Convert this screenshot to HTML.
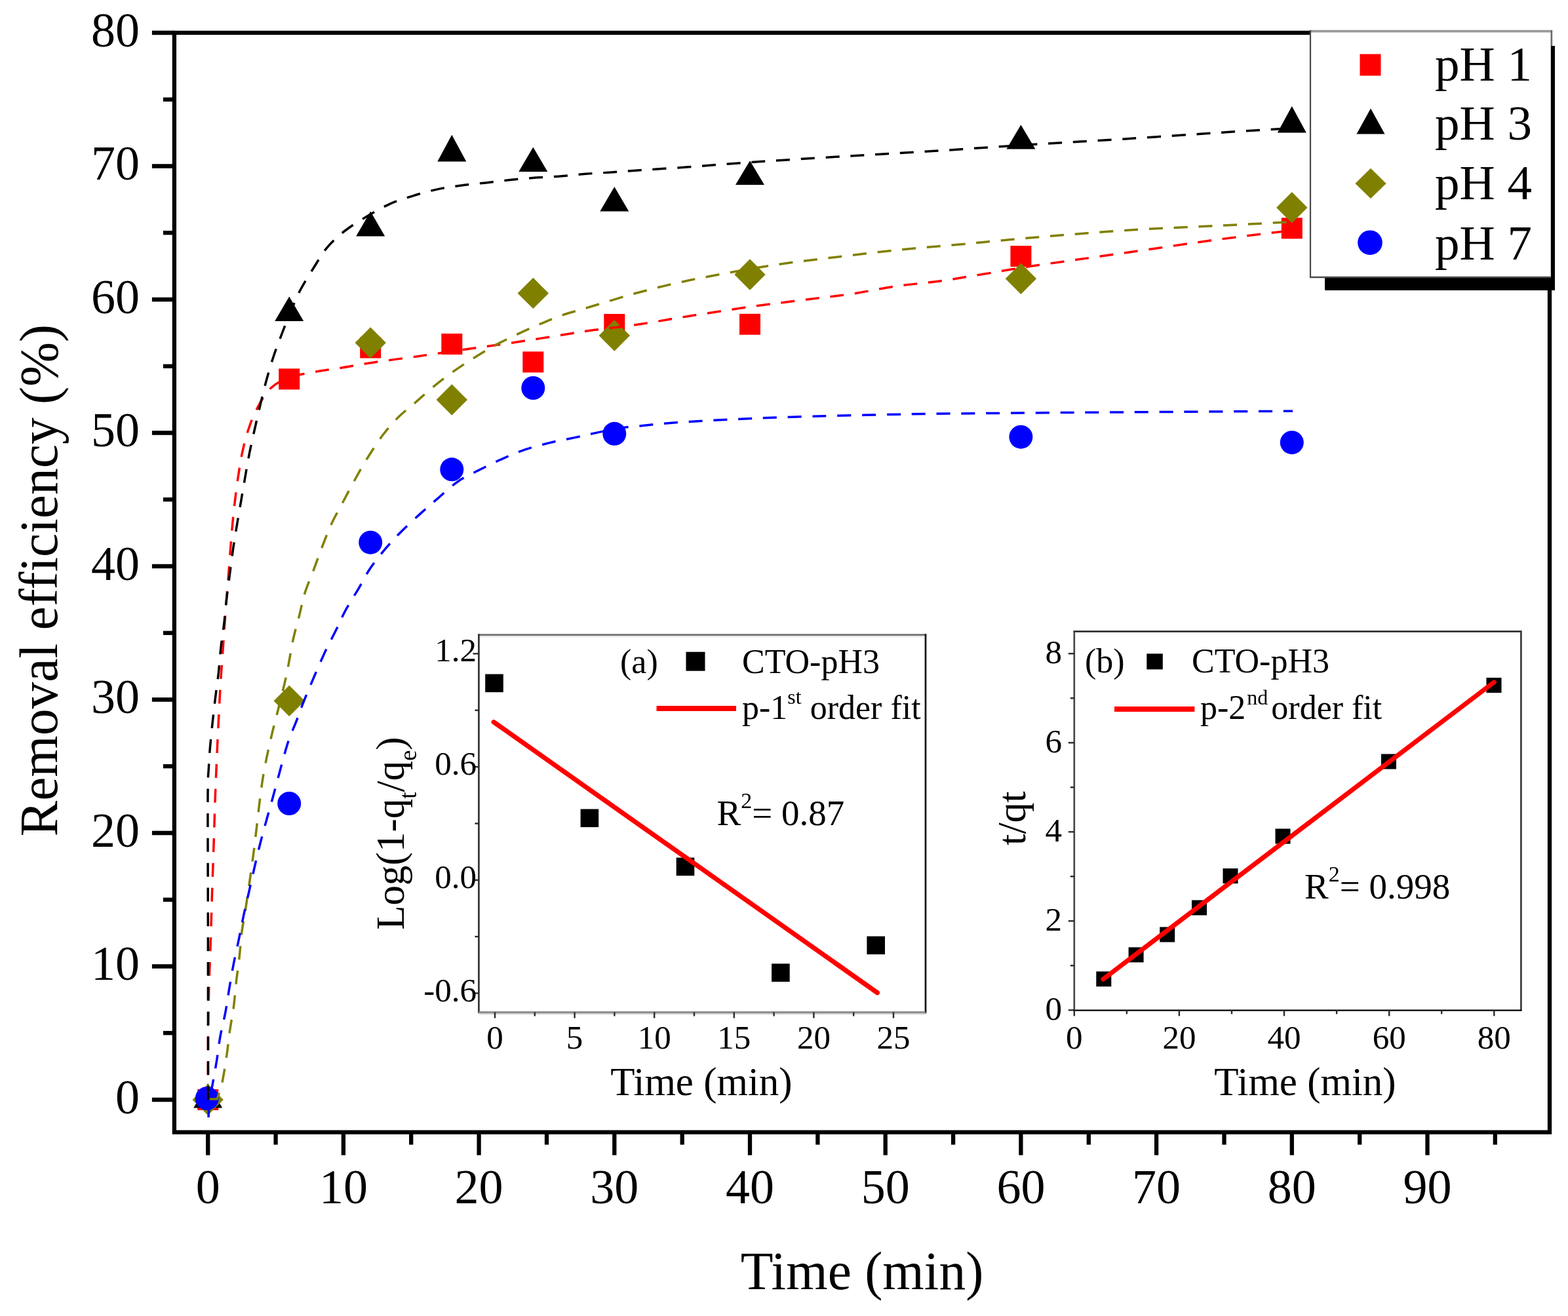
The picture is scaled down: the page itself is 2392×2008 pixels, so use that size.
<!DOCTYPE html>
<html><head><meta charset="utf-8"><title>Removal efficiency</title><style>html,body{margin:0;padding:0;background:#fff;width:2392px;height:2008px;overflow:hidden}</style></head><body>
<svg width="2392" height="2008" viewBox="0 0 2392 2008" style="display:block">
<rect x="0" y="0" width="2392" height="2008" fill="#fff"/>
<rect x="265.9" y="50.0" width="2098.1" height="1677.6" fill="none" stroke="#000" stroke-width="6.3"/>
<line x1="231.89999999999998" y1="1678.0" x2="265.9" y2="1678.0" stroke="#000" stroke-width="6.3"/>
<line x1="248.89999999999998" y1="1576.2" x2="265.9" y2="1576.2" stroke="#000" stroke-width="6.3"/>
<line x1="231.89999999999998" y1="1474.5" x2="265.9" y2="1474.5" stroke="#000" stroke-width="6.3"/>
<line x1="248.89999999999998" y1="1372.8" x2="265.9" y2="1372.8" stroke="#000" stroke-width="6.3"/>
<line x1="231.89999999999998" y1="1271.0" x2="265.9" y2="1271.0" stroke="#000" stroke-width="6.3"/>
<line x1="248.89999999999998" y1="1169.2" x2="265.9" y2="1169.2" stroke="#000" stroke-width="6.3"/>
<line x1="231.89999999999998" y1="1067.5" x2="265.9" y2="1067.5" stroke="#000" stroke-width="6.3"/>
<line x1="248.89999999999998" y1="965.8" x2="265.9" y2="965.8" stroke="#000" stroke-width="6.3"/>
<line x1="231.89999999999998" y1="864.0" x2="265.9" y2="864.0" stroke="#000" stroke-width="6.3"/>
<line x1="248.89999999999998" y1="762.2" x2="265.9" y2="762.2" stroke="#000" stroke-width="6.3"/>
<line x1="231.89999999999998" y1="660.5" x2="265.9" y2="660.5" stroke="#000" stroke-width="6.3"/>
<line x1="248.89999999999998" y1="558.8" x2="265.9" y2="558.8" stroke="#000" stroke-width="6.3"/>
<line x1="231.89999999999998" y1="457.0" x2="265.9" y2="457.0" stroke="#000" stroke-width="6.3"/>
<line x1="248.89999999999998" y1="355.2" x2="265.9" y2="355.2" stroke="#000" stroke-width="6.3"/>
<line x1="231.89999999999998" y1="253.5" x2="265.9" y2="253.5" stroke="#000" stroke-width="6.3"/>
<line x1="248.89999999999998" y1="151.8" x2="265.9" y2="151.8" stroke="#000" stroke-width="6.3"/>
<line x1="231.89999999999998" y1="50.0" x2="265.9" y2="50.0" stroke="#000" stroke-width="6.3"/>
<line x1="317.2" y1="1727.6" x2="317.2" y2="1762.6" stroke="#000" stroke-width="6.3"/>
<line x1="420.6" y1="1727.6" x2="420.6" y2="1746.6" stroke="#000" stroke-width="6.3"/>
<line x1="523.9" y1="1727.6" x2="523.9" y2="1762.6" stroke="#000" stroke-width="6.3"/>
<line x1="627.2" y1="1727.6" x2="627.2" y2="1746.6" stroke="#000" stroke-width="6.3"/>
<line x1="730.6" y1="1727.6" x2="730.6" y2="1762.6" stroke="#000" stroke-width="6.3"/>
<line x1="834.0" y1="1727.6" x2="834.0" y2="1746.6" stroke="#000" stroke-width="6.3"/>
<line x1="937.3" y1="1727.6" x2="937.3" y2="1762.6" stroke="#000" stroke-width="6.3"/>
<line x1="1040.7" y1="1727.6" x2="1040.7" y2="1746.6" stroke="#000" stroke-width="6.3"/>
<line x1="1144.0" y1="1727.6" x2="1144.0" y2="1762.6" stroke="#000" stroke-width="6.3"/>
<line x1="1247.4" y1="1727.6" x2="1247.4" y2="1746.6" stroke="#000" stroke-width="6.3"/>
<line x1="1350.7" y1="1727.6" x2="1350.7" y2="1762.6" stroke="#000" stroke-width="6.3"/>
<line x1="1454.1" y1="1727.6" x2="1454.1" y2="1746.6" stroke="#000" stroke-width="6.3"/>
<line x1="1557.4" y1="1727.6" x2="1557.4" y2="1762.6" stroke="#000" stroke-width="6.3"/>
<line x1="1660.8" y1="1727.6" x2="1660.8" y2="1746.6" stroke="#000" stroke-width="6.3"/>
<line x1="1764.1" y1="1727.6" x2="1764.1" y2="1762.6" stroke="#000" stroke-width="6.3"/>
<line x1="1867.5" y1="1727.6" x2="1867.5" y2="1746.6" stroke="#000" stroke-width="6.3"/>
<line x1="1970.8" y1="1727.6" x2="1970.8" y2="1762.6" stroke="#000" stroke-width="6.3"/>
<line x1="2074.2" y1="1727.6" x2="2074.2" y2="1746.6" stroke="#000" stroke-width="6.3"/>
<line x1="2177.5" y1="1727.6" x2="2177.5" y2="1762.6" stroke="#000" stroke-width="6.3"/>
<line x1="2280.8" y1="1727.6" x2="2280.8" y2="1746.6" stroke="#000" stroke-width="6.3"/>
<g font-family="'Liberation Serif','Times New Roman',serif" font-size="74" fill="#000">
<text x="213" y="1698.5" text-anchor="end">0</text>
<text x="213" y="1495.0" text-anchor="end">10</text>
<text x="213" y="1291.5" text-anchor="end">20</text>
<text x="213" y="1088.0" text-anchor="end">30</text>
<text x="213" y="884.5" text-anchor="end">40</text>
<text x="213" y="681.0" text-anchor="end">50</text>
<text x="213" y="477.5" text-anchor="end">60</text>
<text x="213" y="274.0" text-anchor="end">70</text>
<text x="213" y="70.5" text-anchor="end">80</text>
<text x="317.2" y="1836" text-anchor="middle">0</text>
<text x="523.9" y="1836" text-anchor="middle">10</text>
<text x="730.6" y="1836" text-anchor="middle">20</text>
<text x="937.3" y="1836" text-anchor="middle">30</text>
<text x="1144.0" y="1836" text-anchor="middle">40</text>
<text x="1350.7" y="1836" text-anchor="middle">50</text>
<text x="1557.4" y="1836" text-anchor="middle">60</text>
<text x="1764.1" y="1836" text-anchor="middle">70</text>
<text x="1970.8" y="1836" text-anchor="middle">80</text>
<text x="2177.5" y="1836" text-anchor="middle">90</text>
</g>
<text x="1315" y="1967" font-family="'Liberation Serif','Times New Roman',serif" font-size="81.5" text-anchor="middle">Time (min)</text>
<text transform="translate(87.1,885.5) rotate(-90)" font-family="'Liberation Serif','Times New Roman',serif" font-size="81.5" text-anchor="middle">Removal efficiency (%)</text>
<rect x="301.2" y="1662.0" width="32" height="32" fill="#f00"/>
<rect x="425.2" y="562.4" width="32" height="32" fill="#f00"/>
<rect x="549.2" y="514.5" width="32" height="32" fill="#f00"/>
<rect x="673.3" y="509.0" width="32" height="32" fill="#f00"/>
<rect x="797.3" y="536.4" width="32" height="32" fill="#f00"/>
<rect x="921.3" y="479.0" width="32" height="32" fill="#f00"/>
<rect x="1128.0" y="478.8" width="32" height="32" fill="#f00"/>
<rect x="1541.4" y="375.0" width="32" height="32" fill="#f00"/>
<rect x="1954.8" y="332.3" width="32" height="32" fill="#f00"/>
<polygon points="317.2,1653.0 295.2,1690.5 339.2,1690.5" fill="#000"/>
<polygon points="441.2,452.5 419.2,490.0 463.2,490.0" fill="#000"/>
<polygon points="565.2,322.5 543.2,360.6 587.2,360.6" fill="#000"/>
<polygon points="689.3,205.7 667.3,246.6 711.3,246.6" fill="#000"/>
<polygon points="813.3,224.5 791.3,262.0 835.3,262.0" fill="#000"/>
<polygon points="937.3,285.0 915.3,322.5 959.3,322.5" fill="#000"/>
<polygon points="1144.0,245.2 1122.0,281.9 1166.0,281.9" fill="#000"/>
<polygon points="1557.4,190.5 1535.4,227.6 1579.4,227.6" fill="#000"/>
<polygon points="1970.8,162.0 1948.8,202.4 1992.8,202.4" fill="#000"/>
<polygon points="317.2,1654.3 340.9,1678.0 317.2,1701.7 293.5,1678.0" fill="#808000"/>
<polygon points="441.2,1045.7 464.9,1069.4 441.2,1093.1 417.5,1069.4" fill="#808000"/>
<polygon points="565.2,499.3 588.9,523.0 565.2,546.7 541.5,523.0" fill="#808000"/>
<polygon points="689.3,586.3 713.0,610.0 689.3,633.7 665.6,610.0" fill="#808000"/>
<polygon points="813.3,423.7 837.0,447.4 813.3,471.1 789.6,447.4" fill="#808000"/>
<polygon points="937.3,488.3 961.0,512.0 937.3,535.7 913.6,512.0" fill="#808000"/>
<polygon points="1144.0,395.3 1167.7,419.0 1144.0,442.7 1120.3,419.0" fill="#808000"/>
<polygon points="1557.4,401.5 1581.1,425.2 1557.4,448.9 1533.7,425.2" fill="#808000"/>
<polygon points="1970.8,293.0 1994.5,316.7 1970.8,340.4 1947.1,316.7" fill="#808000"/>
<circle cx="315.8" cy="1676.0" r="18" fill="#00f"/>
<circle cx="441.2" cy="1226.0" r="18" fill="#00f"/>
<circle cx="565.2" cy="827.7" r="18" fill="#00f"/>
<circle cx="689.3" cy="716.3" r="18" fill="#00f"/>
<circle cx="813.3" cy="592.0" r="18" fill="#00f"/>
<circle cx="937.3" cy="661.8" r="18" fill="#00f"/>
<circle cx="1557.4" cy="666.7" r="18" fill="#00f"/>
<circle cx="1970.8" cy="675.2" r="18" fill="#00f"/>
<path d="M317.5,1678.0 C317.5,1662.5 317.3,1612.8 317.5,1585.0 C317.7,1557.2 318.1,1535.6 318.7,1511.0 C319.3,1486.4 320.5,1462.1 321.3,1437.5 C322.1,1412.9 322.7,1388.2 323.5,1363.6 C324.3,1339.0 325.2,1314.6 326.0,1290.0 C326.8,1265.4 327.4,1241.0 328.3,1216.0 C329.2,1191.0 330.4,1165.2 331.5,1140.0 C332.6,1114.8 334.2,1083.8 335.2,1064.8 C336.2,1045.8 336.6,1039.2 337.5,1026.3 C338.4,1013.4 339.4,1000.2 340.3,987.6 C341.2,975.0 341.9,963.1 342.8,950.8 C343.7,938.5 344.6,926.2 345.6,913.9 C346.6,901.6 347.6,889.6 348.6,877.0 C349.6,864.4 350.5,850.9 351.5,838.3 C352.5,825.7 353.4,813.8 354.5,801.5 C355.6,789.2 356.9,777.2 358.4,764.6 C359.9,752.0 361.6,738.3 363.5,726.0 C365.4,713.7 367.0,702.7 369.5,691.0 C372.0,679.3 375.0,667.1 378.7,656.0 C382.4,644.9 386.1,635.1 391.6,624.6 C397.1,614.1 403.6,601.3 411.9,593.2 C420.2,585.1 429.0,580.5 441.3,576.0 C453.6,571.5 472.5,568.9 485.5,566.5 C498.5,564.1 508.1,563.2 519.5,561.4 C530.9,559.6 542.0,557.5 553.6,555.6 C565.2,553.7 577.4,551.9 589.3,550.2 C601.2,548.5 613.4,547.0 625.0,545.4 C636.6,543.8 641.5,543.0 659.1,540.5 C676.7,538.0 712.7,532.6 730.6,530.1 C748.5,527.6 754.7,526.9 766.3,525.2 C777.9,523.5 788.8,521.9 800.4,520.1 C812.0,518.3 824.2,516.4 836.1,514.5 C848.0,512.6 860.2,510.5 871.8,508.7 C883.4,506.9 888.9,505.9 905.9,503.6 C922.9,501.3 949.9,498.5 973.9,495.0 C997.9,491.5 1021.5,487.0 1050.0,482.5 C1078.5,478.0 1114.5,472.3 1145.0,468.0 C1175.5,463.7 1207.2,460.0 1233.0,456.7 C1258.8,453.4 1277.7,451.6 1300.0,448.3 C1322.3,445.0 1344.5,439.9 1366.7,436.7 C1388.9,433.5 1410.8,432.1 1433.0,429.0 C1455.2,425.9 1476.5,422.1 1500.0,418.3 C1523.5,414.5 1537.7,411.5 1573.8,406.1 C1609.9,400.7 1669.1,392.5 1716.7,385.7 C1764.3,378.9 1817.0,371.0 1859.5,365.3 C1902.0,359.6 1953.2,353.8 1972.0,351.5" fill="none" stroke="#f00" stroke-width="3.5" stroke-dasharray="21 16.8"/>
<path d="M317.5,1678.0 C317.5,1631.7 317.4,1477.0 317.3,1400.0 C317.2,1323.0 316.8,1254.3 317.0,1216.0 C317.2,1177.7 317.9,1182.7 318.5,1170.0 C319.1,1157.3 319.5,1151.4 320.5,1140.0 C321.5,1128.6 323.0,1114.2 324.3,1101.7 C325.6,1089.2 327.0,1077.4 328.5,1064.8 C330.0,1052.2 332.0,1039.2 333.4,1026.3 C334.8,1013.4 335.6,1000.2 337.0,987.6 C338.4,975.0 340.5,963.1 341.9,950.8 C343.3,938.5 344.2,926.2 345.6,913.9 C347.0,901.6 348.8,889.6 350.4,877.0 C352.0,864.4 353.7,850.9 355.5,838.3 C357.3,825.7 359.4,813.8 361.4,801.5 C363.4,789.2 365.6,776.9 367.7,764.6 C369.8,752.3 371.9,740.1 374.0,727.8 C376.1,715.5 378.2,703.3 380.6,691.0 C383.1,678.7 385.9,666.3 388.7,654.0 C391.5,641.7 394.2,629.5 397.2,617.2 C400.1,604.9 403.0,592.6 406.4,580.3 C409.8,568.0 413.4,555.5 417.4,543.5 C421.4,531.5 425.9,520.1 430.3,508.5 C434.7,496.9 439.3,485.0 444.0,474.0 C448.7,463.0 452.5,453.2 458.3,442.3 C464.1,431.4 471.9,419.1 478.7,408.3 C485.5,397.5 491.2,387.0 499.1,377.6 C507.1,368.2 516.2,359.9 526.4,352.0 C536.5,344.1 548.7,336.8 560.0,330.0 C571.3,323.2 583.0,316.4 594.4,311.3 C605.8,306.2 616.6,303.0 628.5,299.3 C640.4,295.6 653.4,291.8 665.9,289.1 C678.4,286.4 690.9,284.7 703.4,283.0 C715.9,281.3 728.3,280.3 740.8,278.9 C753.3,277.5 765.4,275.8 778.2,274.5 C791.0,273.2 804.4,272.1 817.4,271.1 C830.4,270.1 843.7,269.7 856.5,268.7 C869.3,267.7 881.5,266.3 894.0,265.3 C906.5,264.3 918.9,263.8 931.4,262.9 C943.9,262.0 949.0,261.5 968.8,260.2 C988.6,258.9 1020.6,256.9 1050.0,254.8 C1079.4,252.7 1105.3,250.3 1145.0,247.6 C1184.7,244.9 1240.3,241.4 1288.0,238.5 C1335.7,235.6 1383.4,233.0 1431.0,230.0 C1478.6,227.0 1526.2,223.5 1573.8,220.5 C1621.4,217.5 1669.1,214.9 1716.7,211.9 C1764.3,208.9 1817.0,205.1 1859.5,202.4 C1902.0,199.7 1953.2,196.7 1972.0,195.5" fill="none" stroke="#000" stroke-width="3.5" stroke-dasharray="21 16.8"/>
<path d="M320,1677 L331.0,1677.0 C331.7,1675.0 333.9,1669.8 335.3,1665.0 C336.8,1660.2 337.9,1657.2 339.7,1648.0 C341.5,1638.8 344.1,1622.7 345.9,1610.0 C347.7,1597.3 348.9,1584.3 350.7,1572.0 C352.5,1559.7 354.9,1548.3 356.5,1536.0 C358.1,1523.7 358.9,1510.7 360.4,1498.0 C361.8,1485.3 363.8,1472.8 365.2,1460.0 C366.6,1447.2 367.4,1433.3 369.0,1421.0 C370.6,1408.7 371.8,1406.2 374.8,1386.0 C377.8,1365.8 382.8,1332.1 387.0,1300.0 C391.2,1267.9 395.6,1222.7 400.0,1193.6 C404.4,1164.5 409.4,1144.4 413.6,1125.5 C417.8,1106.6 421.1,1095.9 425.0,1080.0 C428.9,1064.1 433.3,1047.2 437.0,1030.0 C440.7,1012.8 443.8,991.6 447.0,976.6 C450.2,961.6 453.5,951.6 456.5,939.7 C459.5,927.8 461.4,916.6 465.0,905.0 C468.6,893.4 474.0,881.5 478.3,870.0 C482.6,858.5 486.1,848.1 490.7,836.3 C495.3,824.5 500.2,811.0 505.7,799.2 C511.2,787.4 517.8,776.3 523.5,765.5 C529.2,754.7 534.0,745.3 540.0,734.5 C546.0,723.7 552.1,712.3 559.5,700.5 C566.9,688.7 576.1,674.2 584.2,663.5 C592.3,652.8 599.8,644.5 608.0,636.3 C616.2,628.1 624.8,621.9 633.6,614.2 C642.4,606.6 651.4,598.1 660.8,590.4 C670.1,582.7 679.8,575.3 689.7,568.2 C699.6,561.1 709.6,554.6 720.4,547.8 C731.2,541.0 743.1,533.6 754.4,527.4 C765.7,521.2 777.0,515.8 788.4,510.4 C799.8,505.0 811.1,499.8 822.5,495.0 C833.9,490.2 843.6,485.8 856.5,481.4 C869.4,476.9 881.6,473.8 900.0,468.3 C918.4,462.8 944.5,454.4 966.7,448.3 C988.9,442.2 1010.8,436.7 1033.0,431.7 C1055.2,426.7 1075.0,422.9 1100.0,418.3 C1125.0,413.7 1155.2,408.2 1183.0,404.0 C1210.8,399.8 1236.1,397.0 1266.7,393.3 C1297.3,389.6 1333.4,385.1 1366.7,381.7 C1400.0,378.3 1433.4,375.8 1466.7,372.7 C1500.0,369.6 1525.0,366.9 1566.7,363.3 C1608.4,359.8 1667.9,354.6 1716.7,351.4 C1765.5,348.2 1817.0,346.4 1859.5,344.3 C1902.0,342.2 1953.2,339.5 1972.0,338.5" fill="none" stroke="#808000" stroke-width="3.5" stroke-dasharray="21 16.8"/>
<path d="M318.0,1705.0 C318.2,1702.5 318.4,1695.8 319.0,1690.0 C319.6,1684.2 320.6,1676.3 321.5,1670.0 C322.4,1663.7 323.2,1660.5 324.7,1652.0 C326.2,1643.5 328.6,1630.7 330.5,1619.0 C332.4,1607.3 333.6,1594.5 335.9,1582.0 C338.1,1569.5 341.7,1556.3 344.0,1544.0 C346.3,1531.7 347.7,1520.3 349.8,1508.0 C351.9,1495.7 354.1,1482.3 356.5,1470.0 C358.9,1457.7 361.8,1445.7 364.2,1434.0 C366.6,1422.3 368.4,1412.3 371.0,1400.0 C373.6,1387.7 375.8,1378.3 380.0,1360.0 C384.2,1341.7 389.9,1314.7 396.2,1290.0 C402.4,1265.3 410.5,1237.5 417.5,1212.0 C424.5,1186.5 432.4,1155.3 438.0,1137.0 C443.6,1118.7 446.9,1114.0 451.4,1102.2 C455.9,1090.5 457.9,1083.6 464.9,1066.5 C471.9,1049.4 485.7,1017.0 493.6,999.6 C501.5,982.2 506.7,973.5 512.3,962.1 C517.9,950.8 521.3,942.0 527.0,931.5 C532.7,921.0 540.0,909.9 546.4,899.1 C552.8,888.3 558.0,877.3 565.1,866.8 C572.2,856.3 581.0,845.6 588.9,836.2 C596.8,826.8 604.0,819.4 612.8,810.6 C621.6,801.8 632.4,791.9 641.7,783.4 C651.1,774.9 659.2,767.8 668.9,759.6 C678.5,751.4 688.8,741.3 699.6,734.0 C710.4,726.7 722.4,721.6 733.8,715.8 C745.2,710.0 756.6,704.3 768.0,699.3 C779.4,694.3 790.1,689.7 802.0,685.7 C813.9,681.7 827.0,678.4 839.5,675.4 C852.0,672.4 865.0,670.1 876.9,667.6 C888.8,665.1 899.6,662.5 910.9,660.1 C922.2,657.7 934.1,655.0 944.9,653.3 C955.7,651.6 958.1,651.5 975.6,649.9 C993.1,648.3 1013.8,645.7 1050.0,643.5 C1086.2,641.3 1137.4,638.7 1192.9,636.8 C1248.5,634.9 1319.8,633.1 1383.3,632.0 C1446.8,630.9 1510.3,630.6 1573.8,630.0 C1637.3,629.4 1697.9,629.1 1764.3,628.6 C1830.7,628.1 1937.4,627.4 1972.0,627.2" fill="none" stroke="#00f" stroke-width="3.5" stroke-dasharray="21 16.8"/>
<rect x="730.4" y="969.0" width="681.1" height="575.5" fill="#fff"/>
<line x1="729.1" y1="968.6" x2="1412.9" y2="968.6" stroke="#727272" stroke-width="2.6"/>
<line x1="729.1" y1="971.2" x2="1411.5" y2="971.2" stroke="#e6e6e6" stroke-width="2.2"/>
<line x1="730.4" y1="967.3" x2="730.4" y2="1545.8" stroke="#333" stroke-width="2.7"/>
<line x1="1412" y1="967.3" x2="1412" y2="1545.8" stroke="#1a1a1a" stroke-width="2.8"/>
<line x1="730.4" y1="1544.4" x2="1411.5" y2="1544.4" stroke="#909090" stroke-width="3"/>
<line x1="730.4" y1="1547" x2="1412.9" y2="1547" stroke="#cfcfcf" stroke-width="2.2"/>
<line x1="755.0" y1="1544.5" x2="755.0" y2="1553.5" stroke="#2a2a2a" stroke-width="2.4"/>
<line x1="815.8" y1="1544.5" x2="815.8" y2="1550.5" stroke="#2a2a2a" stroke-width="2.4"/>
<line x1="876.6" y1="1544.5" x2="876.6" y2="1553.5" stroke="#2a2a2a" stroke-width="2.4"/>
<line x1="937.4" y1="1544.5" x2="937.4" y2="1550.5" stroke="#2a2a2a" stroke-width="2.4"/>
<line x1="998.2" y1="1544.5" x2="998.2" y2="1553.5" stroke="#2a2a2a" stroke-width="2.4"/>
<line x1="1059.0" y1="1544.5" x2="1059.0" y2="1550.5" stroke="#2a2a2a" stroke-width="2.4"/>
<line x1="1119.8" y1="1544.5" x2="1119.8" y2="1553.5" stroke="#2a2a2a" stroke-width="2.4"/>
<line x1="1180.6" y1="1544.5" x2="1180.6" y2="1550.5" stroke="#2a2a2a" stroke-width="2.4"/>
<line x1="1241.4" y1="1544.5" x2="1241.4" y2="1553.5" stroke="#2a2a2a" stroke-width="2.4"/>
<line x1="1302.2" y1="1544.5" x2="1302.2" y2="1550.5" stroke="#2a2a2a" stroke-width="2.4"/>
<line x1="1363.0" y1="1544.5" x2="1363.0" y2="1553.5" stroke="#2a2a2a" stroke-width="2.4"/>
<line x1="721.4" y1="1515.5" x2="730.4" y2="1515.5" stroke="#2a2a2a" stroke-width="2.4"/>
<line x1="724.4" y1="1429.1" x2="730.4" y2="1429.1" stroke="#2a2a2a" stroke-width="2.4"/>
<line x1="721.4" y1="1342.8" x2="730.4" y2="1342.8" stroke="#2a2a2a" stroke-width="2.4"/>
<line x1="724.4" y1="1256.5" x2="730.4" y2="1256.5" stroke="#2a2a2a" stroke-width="2.4"/>
<line x1="721.4" y1="1170.1" x2="730.4" y2="1170.1" stroke="#2a2a2a" stroke-width="2.4"/>
<line x1="724.4" y1="1083.8" x2="730.4" y2="1083.8" stroke="#2a2a2a" stroke-width="2.4"/>
<line x1="721.4" y1="997.4" x2="730.4" y2="997.4" stroke="#2a2a2a" stroke-width="2.4"/>
<g font-family="'Liberation Serif','Times New Roman',serif" font-size="51" fill="#000">
<text x="727" y="1009.4" text-anchor="end">1.2</text>
<text x="727" y="1182.1" text-anchor="end">0.6</text>
<text x="727" y="1354.8" text-anchor="end">0.0</text>
<text x="727" y="1527.5" text-anchor="end">-0.6</text>
<text x="755.0" y="1600" text-anchor="middle">0</text>
<text x="876.6" y="1600" text-anchor="middle">5</text>
<text x="998.2" y="1600" text-anchor="middle">10</text>
<text x="1119.8" y="1600" text-anchor="middle">15</text>
<text x="1241.4" y="1600" text-anchor="middle">20</text>
<text x="1363.0" y="1600" text-anchor="middle">25</text>
</g>
<rect x="740.2" y="1028.6" width="27.6" height="27.6" fill="#000"/>
<rect x="885.6" y="1234.5" width="27.6" height="27.6" fill="#000"/>
<rect x="1031.7" y="1308.6" width="27.6" height="27.6" fill="#000"/>
<rect x="1177.1" y="1470.4" width="27.6" height="27.6" fill="#000"/>
<rect x="1322.4" y="1428.6" width="27.6" height="27.6" fill="#000"/>
<line x1="753.2" y1="1101.7" x2="1338.4" y2="1514.8" stroke="#f00" stroke-width="7.2" stroke-linecap="round"/>
<g font-family="'Liberation Serif','Times New Roman',serif" font-size="52" fill="#000">
<text x="946" y="1027">(a)</text>
<text x="1132" y="1027">CTO-pH3</text>
<text x="1132" y="1097">p-1<tspan font-size="32" dy="-23">st</tspan><tspan dy="23"> order fit</tspan></text>
</g>
<rect x="1046.5" y="994.7" width="29" height="29" fill="#000"/>
<line x1="1001.5" y1="1081" x2="1123" y2="1081" stroke="#f00" stroke-width="8"/>
<text x="1093.5" y="1259" font-family="'Liberation Serif','Times New Roman',serif" font-size="55">R<tspan font-size="34" dy="-26">2</tspan><tspan dy="26">= 0.87</tspan></text>
<text x="1070" y="1670.5" font-family="'Liberation Serif','Times New Roman',serif" font-size="61" text-anchor="middle">Time (min)</text>
<text transform="translate(616,1271.5) rotate(-90)" font-family="'Liberation Serif','Times New Roman',serif" font-size="61" text-anchor="middle">Log(1-q<tspan font-size="37" dy="19">t</tspan><tspan dy="-19">/q</tspan><tspan font-size="37" dy="19">e</tspan><tspan dy="-19">)</tspan></text>
<rect x="1638.8" y="963.7" width="681.1000000000001" height="577.5999999999999" fill="#fff"/>
<line x1="1637.5" y1="963.6" x2="2321.2000000000003" y2="963.6" stroke="#1e1e1e" stroke-width="2.5"/>
<line x1="1638.8" y1="962.4" x2="1638.8" y2="1542.6" stroke="#444" stroke-width="2.6"/>
<line x1="2320.4" y1="962.4" x2="2320.4" y2="1542.6" stroke="#333" stroke-width="2.6"/>
<line x1="1637.5" y1="1541.6" x2="2321.2000000000003" y2="1541.6" stroke="#000" stroke-width="2.3"/>
<line x1="1638.8" y1="1541.3" x2="1638.8" y2="1550.3" stroke="#2a2a2a" stroke-width="2.4"/>
<line x1="1718.9" y1="1541.3" x2="1718.9" y2="1547.3" stroke="#2a2a2a" stroke-width="2.4"/>
<line x1="1798.9" y1="1541.3" x2="1798.9" y2="1550.3" stroke="#2a2a2a" stroke-width="2.4"/>
<line x1="1879.0" y1="1541.3" x2="1879.0" y2="1547.3" stroke="#2a2a2a" stroke-width="2.4"/>
<line x1="1959.0" y1="1541.3" x2="1959.0" y2="1550.3" stroke="#2a2a2a" stroke-width="2.4"/>
<line x1="2039.1" y1="1541.3" x2="2039.1" y2="1547.3" stroke="#2a2a2a" stroke-width="2.4"/>
<line x1="2119.2" y1="1541.3" x2="2119.2" y2="1550.3" stroke="#2a2a2a" stroke-width="2.4"/>
<line x1="2199.2" y1="1541.3" x2="2199.2" y2="1547.3" stroke="#2a2a2a" stroke-width="2.4"/>
<line x1="2279.3" y1="1541.3" x2="2279.3" y2="1550.3" stroke="#2a2a2a" stroke-width="2.4"/>
<line x1="1629.8" y1="1541.3" x2="1638.8" y2="1541.3" stroke="#2a2a2a" stroke-width="2.4"/>
<line x1="1632.8" y1="1473.3" x2="1638.8" y2="1473.3" stroke="#2a2a2a" stroke-width="2.4"/>
<line x1="1629.8" y1="1405.3" x2="1638.8" y2="1405.3" stroke="#2a2a2a" stroke-width="2.4"/>
<line x1="1632.8" y1="1337.3" x2="1638.8" y2="1337.3" stroke="#2a2a2a" stroke-width="2.4"/>
<line x1="1629.8" y1="1269.3" x2="1638.8" y2="1269.3" stroke="#2a2a2a" stroke-width="2.4"/>
<line x1="1632.8" y1="1201.3" x2="1638.8" y2="1201.3" stroke="#2a2a2a" stroke-width="2.4"/>
<line x1="1629.8" y1="1133.3" x2="1638.8" y2="1133.3" stroke="#2a2a2a" stroke-width="2.4"/>
<line x1="1632.8" y1="1065.3" x2="1638.8" y2="1065.3" stroke="#2a2a2a" stroke-width="2.4"/>
<line x1="1629.8" y1="997.3" x2="1638.8" y2="997.3" stroke="#2a2a2a" stroke-width="2.4"/>
<g font-family="'Liberation Serif','Times New Roman',serif" font-size="51" fill="#000">
<text x="1620" y="1556.3" text-anchor="end">0</text>
<text x="1620" y="1420.3" text-anchor="end">2</text>
<text x="1620" y="1284.3" text-anchor="end">4</text>
<text x="1620" y="1148.3" text-anchor="end">6</text>
<text x="1620" y="1012.3" text-anchor="end">8</text>
<text x="1638.8" y="1600" text-anchor="middle">0</text>
<text x="1798.9" y="1600" text-anchor="middle">20</text>
<text x="1959.0" y="1600" text-anchor="middle">40</text>
<text x="2119.2" y="1600" text-anchor="middle">60</text>
<text x="2279.3" y="1600" text-anchor="middle">80</text>
</g>
<rect x="1672.3" y="1482.3" width="23" height="23" fill="#000"/>
<rect x="1721.6" y="1445.4" width="23" height="23" fill="#000"/>
<rect x="1769.2" y="1414.5" width="23" height="23" fill="#000"/>
<rect x="1818.0" y="1373.5" width="23" height="23" fill="#000"/>
<rect x="1865.5" y="1325.1" width="23" height="23" fill="#000"/>
<rect x="1945.5" y="1264.5" width="23" height="23" fill="#000"/>
<rect x="2107.0" y="1150.5" width="23" height="23" fill="#000"/>
<rect x="2267.5" y="1034.1" width="23" height="23" fill="#000"/>
<line x1="1683" y1="1494" x2="2279" y2="1041" stroke="#f00" stroke-width="7.2" stroke-linecap="round"/>
<g font-family="'Liberation Serif','Times New Roman',serif" font-size="52" fill="#000">
<text x="1655" y="1026">(b)</text>
<text x="1818" y="1026">CTO-pH3</text>
<text x="1831" y="1097">p-2<tspan font-size="32" dy="-22" dx="2">nd</tspan><tspan dy="22" dx="5">order fit</tspan></text>
</g>
<rect x="1749.3" y="997.4" width="24.5" height="24" fill="#000"/>
<line x1="1700" y1="1082" x2="1822.4" y2="1082" stroke="#f00" stroke-width="8"/>
<text x="1990" y="1371" font-family="'Liberation Serif','Times New Roman',serif" font-size="55">R<tspan font-size="34" dy="-26">2</tspan><tspan dy="26">= 0.998</tspan></text>
<text x="1991" y="1670.5" font-family="'Liberation Serif','Times New Roman',serif" font-size="61" text-anchor="middle">Time (min)</text>
<text transform="translate(1563.6,1248.5) rotate(-90)" font-family="'Liberation Serif','Times New Roman',serif" font-size="62" text-anchor="middle">t/qt</text>
<rect x="2021" y="70" width="351" height="373" fill="#000"/>
<rect x="1999" y="47.5" width="366.8" height="375.5" fill="#fff"/>
<line x1="1998" y1="47.6" x2="2367.6" y2="47.6" stroke="#9a9a9a" stroke-width="3.6"/>
<line x1="1999" y1="46" x2="1999" y2="424" stroke="#4a4a4a" stroke-width="2.2"/>
<line x1="2367" y1="46" x2="2367" y2="70" stroke="#6a6a6a" stroke-width="2.4"/>
<line x1="1998" y1="423" x2="2365.8" y2="423" stroke="#4a4a4a" stroke-width="2.4"/>
<rect x="2074.5" y="82.5" width="32" height="33" fill="#f00"/>
<polygon points="2091,165.5 2069.5,204.5 2112.5,204.5" fill="#000"/>
<polygon points="2091,256.8 2114.6,280 2091,303 2067.4,280" fill="#808000"/>
<circle cx="2090" cy="370.2" r="18.8" fill="#00f"/>
<g font-family="'Liberation Serif','Times New Roman',serif" font-size="75" fill="#000">
<text x="2189" y="122.7">pH 1</text>
<text x="2189" y="213">pH 3</text>
<text x="2189" y="304">pH 4</text>
<text x="2189" y="396">pH 7</text>
</g>
</svg>
</body></html>
